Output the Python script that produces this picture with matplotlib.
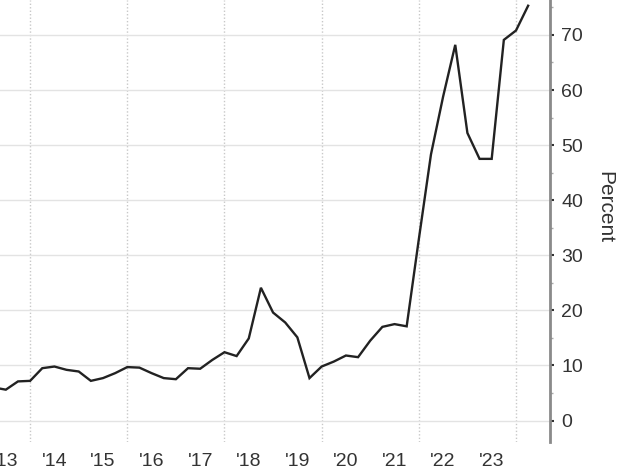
import matplotlib
matplotlib.use("Agg")
import matplotlib.pyplot as plt
from matplotlib.ticker import MultipleLocator, FixedLocator

# Quarterly observations (fractional year) and values in percent
quarters = [2013.25, 2013.5, 2013.75,
            2014.0, 2014.25, 2014.5, 2014.75,
            2015.0, 2015.25, 2015.5, 2015.75,
            2016.0, 2016.25, 2016.5, 2016.75,
            2017.0, 2017.25, 2017.5, 2017.75,
            2018.0, 2018.25, 2018.5, 2018.75,
            2019.0, 2019.25, 2019.5, 2019.75,
            2020.0, 2020.25, 2020.5, 2020.75,
            2021.0, 2021.25, 2021.5, 2021.75,
            2022.0, 2022.25, 2022.5, 2022.75,
            2023.0, 2023.25, 2023.5, 2023.75,
            2024.0, 2024.25]
values = [6.0, 5.6, 7.1,
          7.2, 9.5, 9.8, 9.2,
          8.9, 7.2, 7.7, 8.6,
          9.7, 9.6, 8.6, 7.7,
          7.5, 9.5, 9.4, 11.0,
          12.4, 11.7, 14.9, 24.1,
          19.6, 17.8, 15.1, 7.7,
          9.8, 10.7, 11.8, 11.5,
          14.5, 17.0, 17.5, 17.1,
          32.9, 48.3, 58.8, 68.2,
          52.2, 47.5, 47.5, 69.1,
          70.8, 75.3]

year_labels = ["'13", "'14", "'15", "'16", "'17", "'18", "'19", "'20", "'21", "'22", "'23"]
label_years = [2013, 2014, 2015, 2016, 2017, 2018, 2019, 2020, 2021, 2022, 2023]
grid_years = [2014, 2016, 2018, 2020, 2022, 2024]
y_ticks = [0, 10, 20, 30, 40, 50, 60, 70]

plt.rcParams['font.family'] = ['Liberation Sans', 'DejaVu Sans']

fig = plt.figure(figsize=(6.2, 4.71), dpi=100)
ax = fig.add_axes([0.0, 1 - 442 / 471, 550 / 620, 442 / 471])

ax.plot(quarters, values, color='#222222', linewidth=1.7, solid_joinstyle='miter', zorder=3)

ax.set_xlim(2013.38, 2024.7)
ax.set_ylim(-3.9, 76.34)

# x axis: labels at mid-year, dotted grid at even-year boundaries
ax.xaxis.set_major_locator(FixedLocator([y + 0.5 for y in label_years]))
ax.set_xticklabels(year_labels)
ax.xaxis.set_minor_locator(FixedLocator(grid_years))
ax.tick_params(axis='x', which='both', length=0, labelsize=14, colors='#333333', pad=8)
ax.grid(which='minor', axis='x', color='#c8c8c8', linestyle=(0, (1, 1.5)), linewidth=1.0)

# y axis on the right
ax.yaxis.tick_right()
ax.yaxis.set_label_position('right')
ax.yaxis.set_major_locator(FixedLocator(y_ticks))
ax.yaxis.set_minor_locator(MultipleLocator(5))
ax.tick_params(axis='y', which='major', length=3, width=1.5, color='#333333',
               labelsize=14, labelcolor='#333333', pad=5)
ax.tick_params(axis='y', which='minor', length=2, width=1, color='#aaaaaa')
ax.grid(which='major', axis='y', color='#e3e3e3', linestyle='-', linewidth=1.0)
ax.set_ylabel('Percent', rotation=270, fontsize=15, color='#333333', va='center')
ax.yaxis.set_label_coords(1.1, 0.532)

for side in ['top', 'left', 'bottom']:
    ax.spines[side].set_visible(False)
ax.spines['right'].set_color('#8a8a8a')
ax.spines['right'].set_linewidth(2)

fig.savefig('out.png', dpi=100)
